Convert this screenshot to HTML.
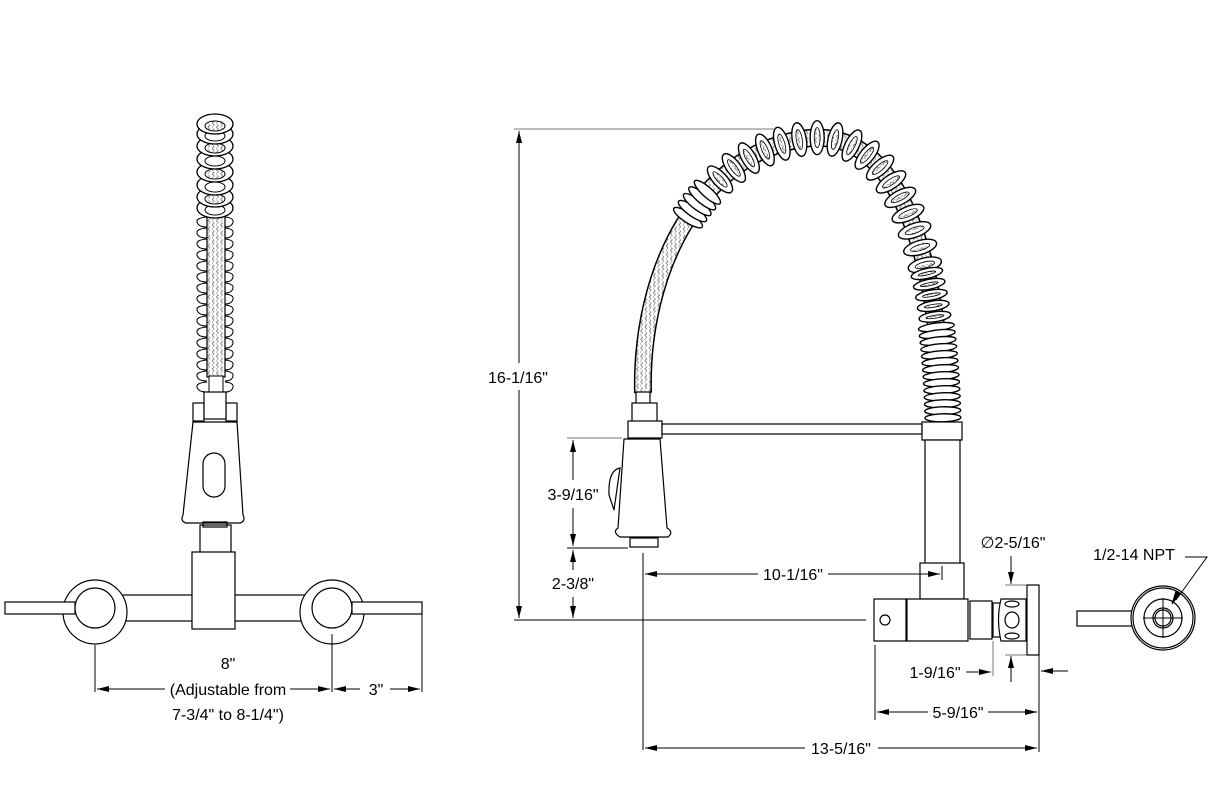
<!DOCTYPE html>
<html><head><meta charset="utf-8"><style>
html,body{margin:0;padding:0;background:#fff}
svg{display:block}
text{font-family:"Liberation Sans",Arial,sans-serif;font-size:16px;fill:#000}
</style></head><body>
<svg id="s" width="1222" height="806" viewBox="0 0 1222 806" xmlns="http://www.w3.org/2000/svg">
<defs>
<marker id="a" markerWidth="12" markerHeight="6" refX="12" refY="3" orient="auto" markerUnits="userSpaceOnUse"><path d="M0,0 L12,3 L0,6 Z" fill="#000"/></marker>
<pattern id="br" width="6" height="6" patternUnits="userSpaceOnUse" patternTransform="rotate(45)"><rect width="6" height="6" fill="#fff"/><path d="M0,0 H3 V3 M3,3 H6 V6" stroke="#666" stroke-width="0.8" fill="none"/></pattern>
</defs>
<g fill="none" stroke="#000" stroke-width="1.2">
<g id="lcoil"></g>
<rect x="193" y="403" width="11" height="18" fill="#fff"/>
<rect x="226" y="403" width="11" height="18" fill="#fff"/>
<rect x="204" y="392" width="22" height="27" fill="#fff"/>
<path d="M193,422 L237,422 L243,515 Q246,521 240,523 L186,523 Q180,521 183,515 Z" fill="#fff"/>
<rect x="203" y="453" width="22" height="44" rx="11" fill="#fff"/>
<rect x="200" y="525" width="31" height="28" fill="#fff"/>
<rect x="203" y="522" width="24" height="5"/>
<rect x="115" y="595" width="80" height="26" fill="#fff"/>
<rect x="230" y="595" width="85" height="26" fill="#fff"/>
<rect x="192" y="552" width="43" height="77" fill="#fff"/>
<circle cx="95" cy="612" r="32" fill="#fff"/>
<circle cx="95" cy="608" r="20" fill="#fff"/>
<circle cx="332" cy="612" r="32" fill="#fff"/>
<circle cx="332" cy="608" r="20" fill="#fff"/>
<rect x="5" y="602" width="70" height="12" fill="#fff"/>
<rect x="352" y="602" width="70" height="12" fill="#fff"/>
</g>
<g stroke="#000" stroke-width="1" fill="none">
<line x1="95" y1="645" x2="95" y2="692"/>
<line x1="332" y1="634" x2="332" y2="692"/>
<line x1="422" y1="614" x2="422" y2="692"/>
<line x1="165" y1="689" x2="97" y2="689" marker-end="url(#a)"/>
<line x1="290" y1="689" x2="330" y2="689" marker-end="url(#a)"/>
<line x1="360" y1="689" x2="334" y2="689" marker-end="url(#a)"/>
<line x1="390" y1="689" x2="420" y2="689" marker-end="url(#a)"/>
</g>
<text x="228" y="669" text-anchor="middle">8"</text>
<text x="228" y="695" text-anchor="middle">(Adjustable from</text>
<text x="228" y="720" text-anchor="middle">7-3/4" to 8-1/4")</text>
<text x="376" y="695" text-anchor="middle">3"</text>

<g id="rcoil"></g>
<g fill="#fff" stroke="#000" stroke-width="1.2">
<rect x="636" y="392" width="14" height="12"/>
<rect x="632" y="403" width="25" height="19"/>
<rect x="628" y="421" width="34" height="17"/>
<rect x="662" y="424" width="260" height="10"/>
<path d="M620,468 Q608,470 609,495 L614,510 Z"/>
<path d="M624,439 L660,439 L667,528 Q674,532 668,537 L620,537 Q612,532 618,528 Z"/>
<rect x="630" y="538" width="28" height="9"/>
<rect x="922" y="422" width="40" height="18"/>
<rect x="925" y="440" width="35" height="124"/>
<rect x="920" y="563" width="44" height="36"/>
<rect x="874" y="599" width="32" height="42"/>
<circle cx="885" cy="620" r="5"/>
<rect x="907" y="599" width="61" height="42"/>
<rect x="970" y="601" width="22" height="38"/>
<rect x="993" y="603" width="8" height="34"/>
<path d="M1001,599 L1026,599 L1026,641 L1001,641 Q996,620 1001,599 Z"/>
<ellipse cx="1012" cy="604" rx="7" ry="3"/>
<ellipse cx="1012" cy="620" rx="7" ry="8"/>
<ellipse cx="1012" cy="636" rx="7" ry="3"/>
<rect x="1027" y="585" width="12" height="70"/>
<rect x="1077" y="611" width="58" height="15"/>
<circle cx="1163" cy="618" r="32"/>
<circle cx="1163" cy="618" r="30"/>
<circle cx="1163" cy="618" r="19"/>
<circle cx="1163" cy="618" r="10"/>
<circle cx="1163" cy="618" r="8"/>
</g>
<g stroke="#000" stroke-width="1" fill="none">
<line x1="1143" y1="618" x2="1183" y2="618"/>
<line x1="1163" y1="598" x2="1163" y2="638"/>
<polyline points="1185,557 1207,557 1176,600"/>
<path d="M1180,594 L1172,604 L1176,591 Z" fill="#000"/>
<line x1="514" y1="129" x2="775" y2="129" stroke="#777"/>
<line x1="519" y1="363" x2="519" y2="131" marker-end="url(#a)"/>
<line x1="519" y1="390" x2="519" y2="618" marker-end="url(#a)"/>
<line x1="514" y1="620" x2="866" y2="620"/>
<line x1="567" y1="438" x2="622" y2="438" stroke="#777"/>
<line x1="567" y1="548" x2="628" y2="548"/>
<line x1="573" y1="480" x2="573" y2="440" marker-end="url(#a)"/>
<line x1="573" y1="508" x2="573" y2="546" marker-end="url(#a)"/>
<line x1="573" y1="570" x2="573" y2="550" marker-end="url(#a)"/>
<line x1="573" y1="597" x2="573" y2="618" marker-end="url(#a)"/>
<line x1="643" y1="553" x2="643" y2="750"/>
<line x1="758" y1="574" x2="645" y2="574" marker-end="url(#a)"/>
<line x1="828" y1="574" x2="940" y2="574" marker-end="url(#a)"/>
<line x1="942" y1="566" x2="942" y2="580"/>
<line x1="1011" y1="556" x2="1011" y2="584" marker-end="url(#a)"/>
<line x1="1011" y1="682" x2="1011" y2="656" marker-end="url(#a)"/>
<line x1="1005" y1="585" x2="1026" y2="585" stroke="#777"/>
<line x1="1005" y1="655" x2="1026" y2="655" stroke="#777"/>
<line x1="993" y1="641" x2="993" y2="676" stroke="#777"/>
<line x1="966" y1="672" x2="991" y2="672" marker-end="url(#a)"/>
<line x1="1068" y1="671" x2="1041" y2="671" marker-end="url(#a)"/>
<line x1="875" y1="645" x2="875" y2="720"/>
<line x1="1039" y1="655" x2="1039" y2="752"/>
<line x1="928" y1="712" x2="877" y2="712" marker-end="url(#a)"/>
<line x1="988" y1="712" x2="1037" y2="712" marker-end="url(#a)"/>
<line x1="805" y1="748" x2="645" y2="748" marker-end="url(#a)"/>
<line x1="878" y1="748" x2="1037" y2="748" marker-end="url(#a)"/>
</g>
<text x="518" y="383" text-anchor="middle">16-1/16"</text>
<text x="573" y="500" text-anchor="middle">3-9/16"</text>
<text x="573" y="589" text-anchor="middle">2-3/8"</text>
<text x="793" y="580" text-anchor="middle">10-1/16"</text>
<text x="1013" y="548" text-anchor="middle">∅2-5/16"</text>
<text x="935" y="678" text-anchor="middle">1-9/16"</text>
<text x="958" y="718" text-anchor="middle">5-9/16"</text>
<text x="841" y="754" text-anchor="middle">13-5/16"</text>
<text x="1134" y="560" text-anchor="middle">1/2-14 NPT</text>
</svg>
<script>
var NS="http://www.w3.org/2000/svg";
function el(p,t,a){var e=document.createElementNS(NS,t);for(var k in a)e.setAttribute(k,a[k]);p.appendChild(e);return e;}
var L=document.getElementById('lcoil');
el(L,'rect',{x:207,y:212,width:18,height:165,fill:'url(#br)',stroke:'#000','stroke-width':1.2});
el(L,'rect',{x:209,y:376,width:14,height:16,fill:'#fff',stroke:'#000','stroke-width':1});
for(var y=222;y<=388;y+=11){
 el(L,'path',{d:'M207,'+(y-5)+' Q196,'+(y-4)+' 197,'+y+' Q198,'+(y+5)+' 207,'+(y+5),fill:'none',stroke:'#000','stroke-width':1});
 el(L,'path',{d:'M225,'+(y-5)+' Q234,'+(y-4)+' 233,'+y+' Q232,'+(y+5)+' 225,'+(y+5),fill:'none',stroke:'#000','stroke-width':1});
}
var ys=[208,197,185,172,159,146,134,124];
for(var i=0;i<ys.length;i++){
 el(L,'ellipse',{cx:215,cy:ys[i],rx:18,ry:10,fill:'#fff',stroke:'#000','stroke-width':1.3});
 el(L,'ellipse',{cx:215,cy:ys[i]+2,rx:10,ry:5,fill:(i%2?'url(#br)':'#fff'),stroke:'#000','stroke-width':1});
}
var R=document.getElementById('rcoil');
var d='M643,393 C640,270 700,150 810,138 C900,130 940,260 943,422';
el(R,'path',{d:d,fill:'none',stroke:'#000','stroke-width':18});
el(R,'path',{d:d,fill:'none',stroke:'url(#br)','stroke-width':15});
var p=el(R,'path',{d:d,fill:'none',stroke:'none'});
var len=p.getTotalLength();
function ring(s,rx,ry,inner){var a=p.getPointAtLength(s),b=p.getPointAtLength(Math.min(len,s+1));
 var ang=Math.atan2(b.y-a.y,b.x-a.x)*180/Math.PI;
 var tr='rotate('+ang+' '+a.x+' '+a.y+')';
 el(R,'ellipse',{cx:a.x,cy:a.y,rx:rx,ry:ry,transform:tr,fill:'#fff',stroke:'#000','stroke-width':1.4});
 if(inner)el(R,'ellipse',{cx:a.x,cy:a.y,rx:Math.max(1.5,rx-4),ry:ry-7,transform:tr,fill:'url(#br)',stroke:'#000','stroke-width':0.8});}
var s0=len*0.27;
for(var k=0;k<5;k++)ring(s0+k*8,5,17,false);
for(var s=s0+50;s<len*0.78;s+=18)ring(s,7,17,true);
for(var s=len*0.78;s<len*0.86;s+=11)ring(s,5,16,true);
for(var s=len*0.86;s<len-4;s+=7)ring(s,4,18,false);
</script>
</body></html>
